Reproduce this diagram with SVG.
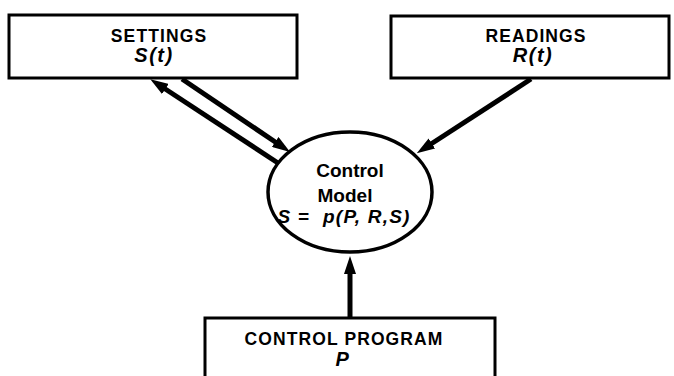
<svg xmlns="http://www.w3.org/2000/svg" width="674" height="376" viewBox="0 0 674 376">
  <style>
    .box { fill: #ffffff; stroke: #000000; stroke-width: 3; }
    .model { fill: #ffffff; stroke: #000000; stroke-width: 3.5; }
    .label { font-family: "Liberation Sans", Arial, Helvetica, sans-serif; font-weight: bold; fill: #000000; text-anchor: middle; }
    .caps { font-size: 17.5px; letter-spacing: 1.1px; }
    .sym { font-size: 20px; font-style: italic; letter-spacing: 1.5px; }
    .inner { font-size: 19px; }
    .formula { font-size: 19px; font-style: italic; letter-spacing: 1.2px; }
    .flow { fill: none; stroke: #000000; stroke-width: 5; stroke-linecap: butt; }
  </style>
  <defs>
    <marker id="head" markerUnits="userSpaceOnUse" markerWidth="18" markerHeight="12" viewBox="0 0 18 12" refX="1" refY="6" orient="auto">
      <path d="M0,0 L18,6 L0,12 z" fill="#000000"/>
    </marker>
  </defs>

  <rect width="674" height="376" fill="#ffffff"/>

  <!-- connectors -->
  <g id="connectors">
    <!-- model writes back to settings -->
    <line class="flow" x1="281" y1="165" x2="164.5" y2="88.5" marker-end="url(#head)"/>
    <!-- settings read by the model -->
    <line class="flow" x1="182" y1="79" x2="276" y2="142.5" marker-end="url(#head)"/>
    <!-- readings into the model -->
    <line class="flow" x1="531" y1="79" x2="431" y2="144" marker-end="url(#head)"/>
    <!-- control program into the model -->
    <line class="flow" x1="350" y1="318" x2="350" y2="273" marker-end="url(#head)"/>
  </g>

  <g id="settings">
    <rect class="box" x="9" y="15" width="288" height="63"/>
    <text class="label caps" x="159" y="42">SETTINGS</text>
    <text class="label sym" x="154" y="62">S(t)</text>
  </g>

  <g id="readings">
    <rect class="box" x="391" y="16" width="278" height="62"/>
    <text class="label caps" x="536" y="42">READINGS</text>
    <text class="label sym" x="533" y="62">R(t)</text>
  </g>

  <g id="control-model">
    <ellipse class="model" cx="350" cy="192" rx="82" ry="60"/>
    <text class="label inner" x="350" y="177">Control</text>
    <text class="label inner" x="345" y="202">Model</text>
    <text class="label formula" x="344" y="223" xml:space="preserve">S =  p(P, R,S)</text>
  </g>

  <g id="control-program">
    <rect class="box" x="205" y="318" width="290" height="70"/>
    <text class="label caps" x="344" y="345">CONTROL PROGRAM</text>
    <text class="label sym" x="343" y="366">P</text>
  </g>
</svg>
